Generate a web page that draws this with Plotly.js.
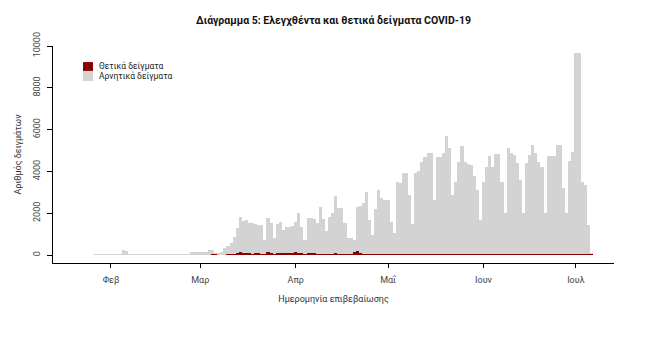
<!DOCTYPE html>
<html>
<head>
<meta charset="utf-8">
<script src="https://cdn.plot.ly/plotly-3.0.1.min.js"></script>
<style>html,body{margin:0;padding:0;background:#fff;}#chart{width:665px;height:355px;}</style>
</head>
<body>
<div id="chart"></div>
<script>
// ---- data (daily, from 2020-01-27 to 2020-07-06) ----
const firstDay = '2020-01-27';
const dayCount = 162;

// positive samples per day
const positives = [
  // Jan 27-31
  0,0,0,0,0,
  // Feb
  0,0,0,0,0,0,0,0,0,0,0,0,0,0,0,0,0,0,0,0,0,0,0,0,0,1,2,3,1,
  // Mar
  0,0,2,10,40,30,15,20,20,30,40,50,100,160,110,80,90,70,80,75,60,40,120,110,60,90,95,80,110,100,95,
  // Apr
  120,110,80,50,100,80,90,60,70,60,40,70,60,90,70,60,45,40,35,150,190,80,55,50,45,40,50,55,45,40,
  // May
  45,35,35,45,50,40,45,35,35,45,40,45,40,50,40,35,40,45,55,45,40,35,40,45,40,45,35,40,45,35,35,
  // Jun
  40,45,40,55,45,40,35,45,40,45,50,40,45,35,40,45,50,45,55,45,40,50,45,40,55,50,45,40,50,45,
  // Jul 1-6
  55,50,55,60,55,60
];

// negative samples per day
const negatives = [
  // Jan 27-31
  25,25,25,25,25,
  // Feb
  25,25,25,25,220,200,25,25,25,25,25,25,25,25,25,25,25,25,25,25,25,25,25,25,25,24,118,127,119,
  // Mar
  130,120,148,230,200,80,95,100,310,420,530,820,1190,1660,1540,1590,1440,1460,1420,1375,1370,680,1650,1420,740,1390,1485,1120,1230,1240,1285,
  // Apr
  1470,1890,1260,670,1670,1690,1610,1470,2230,1640,1120,1760,1940,2730,2180,2190,1485,770,765,570,2110,2250,2445,2980,1625,920,2150,3055,2685,2590,
  // May
  2585,1555,1015,3465,3400,3900,3895,2835,1465,3875,3960,4425,4660,4850,4860,2595,4630,4625,4845,5645,5060,2835,3460,4425,5160,4405,4315,4260,3755,3075,1635,
  // Jun
  3470,4185,4700,4175,4785,4790,3475,1955,5060,4855,4730,4360,3545,1965,4360,4735,5210,4855,4395,4185,1960,4690,4695,4700,5205,5210,3165,1960,4460,4895,
  // Jul 1-6
  9595,9600,3455,3290,1375,40
];

const seriesNames = ['Θετικά δείγματα', 'Αρνητικά δείγματα'];
const monthTickVals = ['2020-02-01','2020-03-01','2020-04-01','2020-05-01','2020-06-01','2020-07-01'];
const monthTickText = ['Φεβ','Μαρ','Απρ','Μαΐ','Ιουν','Ιουλ'];
const yTickVals = [0,2000,4000,6000,8000,10000];
const yTickText = ['0','2000','4000','6000','8000','10000'];

// consecutive calendar days
const dates = [];
(function(){
  const d0 = new Date(firstDay + 'T00:00:00Z');
  for (let i = 0; i < dayCount; i++) {
    const d = new Date(d0.getTime() + i*86400000);
    dates.push(d.toISOString().slice(0,10));
  }
})();

const colPos = '#8b0000';
const colNeg = '#d3d3d3';
const FONT = 'Roboto, "Open Sans", sans-serif';

const traces = [
  {type:'bar', x:dates, y:positives, name:seriesNames[0], marker:{color:colPos, line:{width:0}}, hoverinfo:'x+y'},
  {type:'bar', x:dates, y:negatives, name:seriesNames[1], marker:{color:colNeg, line:{width:0}}, hoverinfo:'x+y'}
];

const layout = {
  width:665, height:355,
  margin:{l:53, r:51, t:46, b:92},
  paper_bgcolor:'#fff', plot_bgcolor:'#fff',
  barmode:'stack', bargap:0,
  showlegend:false,
  font:{family:FONT, color:'#333'},
  title:{text:'<b>Διάγραμμα 5: Ελεγχθέντα και θετικά δείγματα COVID-19</b>', font:{family:FONT, size:10.5, color:'#111'},
         x:0.5, xref:'paper', xanchor:'center', y:1-20/355, yref:'container', yanchor:'middle'},
  xaxis:{
    type:'date', range:['2020-01-13 04:00','2020-07-13 09:00'],
    tickmode:'array', tickvals:monthTickVals, ticktext:monthTickText,
    ticks:'outside', ticklen:4, tickwidth:1, tickcolor:'#000',
    showline:true, linecolor:'#000', linewidth:1.2,
    showgrid:false, zeroline:false, automargin:false,
    tickfont:{family:FONT, size:9, color:'#444'}, ticklabelstandoff:4,
    title:{text:'Ημερομηνία επιβεβαίωσης', font:{family:FONT, size:9, color:'#333'}, standoff:11}
  },
  yaxis:{
    range:[-383, 10000],
    tickmode:'array', tickvals:yTickVals, ticktext:yTickText, tickangle:-90,
    ticks:'outside', ticklen:5, tickwidth:1, tickcolor:'#000',
    showline:true, linecolor:'#000', linewidth:1.2,
    showgrid:false, zeroline:false, automargin:false,
    tickfont:{family:FONT, size:9, color:'#444'}, ticklabelstandoff:3,
    title:{text:'Αριθμός δειγμάτων', font:{family:FONT, size:9, color:'#333'}, standoff:9}
  },
  shapes:[
    {type:'rect', xref:'paper', yref:'paper', x0:0.0535, x1:0.0713, y0:0.885, y1:0.926, fillcolor:colPos, line:{width:0}},
    {type:'rect', xref:'paper', yref:'paper', x0:0.0535, x1:0.0713, y0:0.839, y1:0.885, fillcolor:colNeg, line:{width:0}}
  ],
  annotations:[
    {xref:'paper', yref:'paper', x:0.0784, y:0.908, xanchor:'left', yanchor:'middle', showarrow:false,
     text:seriesNames[0], font:{family:FONT, size:8.5, color:'#222'}},
    {xref:'paper', yref:'paper', x:0.0784, y:0.862, xanchor:'left', yanchor:'middle', showarrow:false,
     text:seriesNames[1], font:{family:FONT, size:8.5, color:'#222'}}
  ]
};

Plotly.newPlot('chart', traces, layout, {displayModeBar:false, staticPlot:true});
</script>
</body>
</html>
